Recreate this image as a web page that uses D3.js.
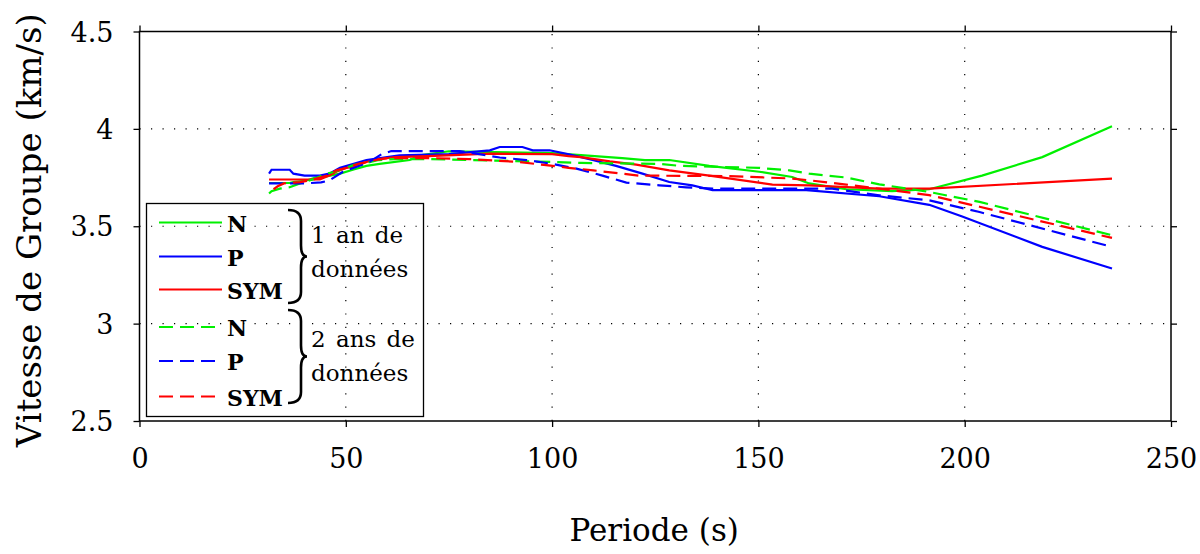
<!DOCTYPE html>
<html><head><meta charset="utf-8">
<script src="https://cdn.jsdelivr.net/npm/d3@7"></script>
<style>body{margin:0;background:#fff}svg{display:block}</style>
</head><body>
<svg id="c" width="1200" height="554"></svg>
<script>
// ---- data ----
const xTicks = [0, 50, 100, 150, 200, 250];
const yTicks = [2.5, 3, 3.5, 4, 4.5];
const xTickLabels = ["0", "50", "100", "150", "200", "250"];
const yTickLabels = ["2.5", "3", "3.5", "4", "4.5"];

const N1 = [[31.4,3.722],[36.4,3.722],[37.3,3.727],[40.5,3.735],[43,3.753],[45.3,3.756],[48.6,3.77],[51.7,3.79],[55,3.81],[58.2,3.82],[65.5,3.84],[68,3.864],[75,3.885],[100,3.875],[107,3.865],[117,3.85],[122.5,3.84],[128.4,3.84],[138.1,3.81],[150.2,3.78],[158.2,3.753],[162.3,3.72],[171.3,3.69],[182.4,3.68],[191.4,3.69],[204.2,3.76],[218.8,3.855],[235.7,4.013]];
const P1 = [[31.4,3.77],[32,3.79],[36.4,3.79],[37.3,3.77],[40,3.76],[43.7,3.76],[46,3.77],[48.6,3.80],[51.7,3.82],[55,3.84],[57.5,3.847],[63,3.864],[75,3.87],[84.9,3.89],[87.3,3.907],[92.8,3.907],[95.3,3.89],[99.4,3.89],[103.8,3.87],[107,3.855],[109.8,3.84],[115.5,3.81],[121.9,3.77],[128.4,3.727],[134,3.71],[138.9,3.685],[161.6,3.685],[179.3,3.654],[191.4,3.61],[199.4,3.55],[218.8,3.394],[235.7,3.283]];
const SYM1 = [[31.4,3.74],[43.7,3.74],[46,3.76],[47.7,3.78],[50.2,3.80],[52.6,3.81],[55,3.83],[58,3.845],[62,3.855],[70,3.86],[76,3.865],[85,3.873],[100,3.87],[104,3.86],[107,3.855],[114,3.833],[120.4,3.816],[128.4,3.787],[138.1,3.76],[153.4,3.714],[162.3,3.71],[179.3,3.693],[191.4,3.693],[235.7,3.745]];
const N2 = [[31.4,3.668],[32,3.68],[34,3.693],[36.4,3.70],[38.9,3.72],[42,3.74],[45.3,3.77],[47.3,3.78],[50,3.80],[52,3.815],[55,3.825],[58,3.84],[62,3.845],[70,3.845],[80,3.84],[90,3.835],[100,3.83],[107,3.825],[126,3.82],[131,3.81],[150,3.80],[157.5,3.787],[162.3,3.77],[171.3,3.75],[179.3,3.715],[191.4,3.676],[203.6,3.625],[235.7,3.454]];
const P2 = [[31.4,3.72],[40,3.72],[44,3.725],[46,3.735],[49.3,3.78],[52,3.80],[55.7,3.83],[58.6,3.869],[61,3.886],[77.6,3.886],[87.3,3.853],[93.8,3.84],[100,3.82],[105.9,3.796],[112.2,3.76],[118,3.724],[126,3.71],[132.5,3.70],[138.9,3.693],[167.9,3.693],[179.3,3.659],[191.4,3.633],[203.6,3.573],[235.7,3.394]];
const SYM2 = [[32.5,3.69],[33.5,3.705],[35,3.72],[38.9,3.727],[41.3,3.735],[45.5,3.76],[47.7,3.787],[50.2,3.80],[53,3.82],[56,3.835],[60,3.85],[70,3.85],[80,3.845],[92,3.83],[98,3.815],[104,3.80],[110,3.787],[121,3.76],[142,3.758],[158.2,3.745],[162.3,3.736],[171.3,3.714],[179.3,3.693],[191.4,3.66],[203.6,3.60],[235.7,3.44]];

const seriesNames = ["N", "P", "SYM", "N", "P", "SYM"];
const seriesData = [N1, P1, SYM1, N2, P2, SYM2];
const seriesColors = ["#00f000", "#0000ff", "#ff0000", "#00f000", "#0000ff", "#ff0000"];
const seriesDashed = [false, false, false, true, true, true];
const groupLabels = [["1 an de", "données"], ["2 ans de", "données"]];

// ---- layout ----
const L = 139.5, R = 1171, T = 31.5, B = 421;
const FONT = "'DejaVu Serif', serif";
const svg = d3.select("#c");
const x = d3.scaleLinear().domain([0, 250]).range([L, R]);
const y = d3.scaleLinear().domain([2.5, 4.5]).range([B, T]);

// grid
const g = svg.append("g");
g.selectAll(".vg").data(xTicks.filter(t => t > 0 && t < 250)).join("line")
  .attr("x1", d => x(d)).attr("x2", d => x(d)).attr("y1", B).attr("y2", T)
  .attr("stroke", "#000").attr("stroke-width", 1.2).attr("stroke-dasharray", "1.2,12.1");
g.selectAll(".hg").data(yTicks.filter(t => t > 2.5 && t < 4.5)).join("line")
  .attr("x1", L).attr("x2", R).attr("y1", d => y(d)).attr("y2", d => y(d))
  .attr("stroke", "#000").attr("stroke-width", 1.2).attr("stroke-dasharray", "1.2,10.3");

// axes
const ax = (gen, tr) => svg.append("g").attr("transform", tr).call(gen)
  .call(s => { s.select(".domain").remove(); s.selectAll("line").attr("stroke", "#000").attr("stroke-width", 1.3); });
const fmtX = (d, i) => xTickLabels[i];
const fmtY = (d, i) => yTickLabels[i];
const xb = ax(d3.axisBottom(x).tickValues(xTicks).tickFormat(fmtX).tickSize(6).tickPadding(22), `translate(0,${B})`);
xb.selectAll("text").attr("font-family", FONT).attr("font-size", 27).attr("fill", "#000");
const xt = ax(d3.axisTop(x).tickValues(xTicks).tickFormat("").tickSize(6), `translate(0,${T})`);
const yl = ax(d3.axisLeft(y).tickValues(yTicks).tickFormat(fmtY).tickSize(6).tickPadding(20), `translate(${L},0)`);
yl.selectAll("text").attr("font-family", FONT).attr("font-size", 27).attr("fill", "#000").attr("dy", "0.36em");
const yr = ax(d3.axisRight(y).tickValues(yTicks).tickFormat("").tickSize(6), `translate(${R},0)`);

// border
svg.append("rect").attr("x", L).attr("y", T).attr("width", R - L).attr("height", B - T)
  .attr("fill", "none").attr("stroke", "#000").attr("stroke-width", 1.5);

// series
const line = d3.line().x(d => x(d[0])).y(d => y(d[1]));
seriesData.forEach((data, i) => {
  svg.append("path").datum(data).attr("d", line).attr("fill", "none")
    .attr("stroke", seriesColors[i]).attr("stroke-width", 2.2)
    .attr("stroke-dasharray", seriesDashed[i] ? "14,7" : null);
});

// legend
const lg = svg.append("g");
lg.append("rect").attr("x", 146.5).attr("y", 203.5).attr("width", 277).attr("height", 213)
  .attr("fill", "none").attr("stroke", "#000").attr("stroke-width", 1.3);
const rowY = [222.5, 256.5, 289.5, 327, 361, 396.5];
seriesData.forEach((d, i) => {
  lg.append("line").attr("x1", 159).attr("x2", 222).attr("y1", rowY[i]).attr("y2", rowY[i])
    .attr("stroke", seriesColors[i]).attr("stroke-width", 2.2)
    .attr("stroke-dasharray", seriesDashed[i] ? "14,7" : null);
  lg.append("text").attr("x", 227).attr("y", rowY[i] + 9).text(seriesNames[i])
    .attr("font-family", FONT).attr("font-weight", "bold").attr("font-size", 22).attr("fill", "#000");
});
function brace(y0, y1) {
  const x0 = 288, x1 = 301, x2 = 307, ym = (y0 + y1) / 2, r = 11;
  return `M${x0},${y0} Q${x1},${y0} ${x1},${y0 + r} L${x1},${ym - r} Q${x1},${ym} ${x2},${ym} ` +
         `Q${x1},${ym} ${x1},${ym + r} L${x1},${y1 - r} Q${x1},${y1} ${x0},${y1}`;
}
[[210, 303], [310, 403]].forEach((b, k) => {
  lg.append("path").attr("d", brace(b[0], b[1])).attr("fill", "none").attr("stroke", "#000").attr("stroke-width", 2.6);
  const base = [243, 347][k];
  groupLabels[k].forEach((t, j) => {
    lg.append("text").attr("x", 311).attr("y", base + j * 34).text(t)
      .attr("font-family", FONT).attr("font-size", 23).attr("word-spacing", 3).attr("fill", "#000");
  });
});

// axis titles
svg.append("text").attr("x", (L + R) / 2 - 1).attr("y", 541).attr("text-anchor", "middle")
  .attr("font-family", FONT).attr("font-size", 31).attr("fill", "#000").text("Periode (s)");
svg.append("text").attr("transform", `translate(41,${(T + B) / 2 + 4}) rotate(-90)`).attr("text-anchor", "middle")
  .attr("font-family", FONT).attr("font-size", 34).attr("fill", "#000").text("Vitesse de Groupe (km/s)");
</script>
</body></html>
